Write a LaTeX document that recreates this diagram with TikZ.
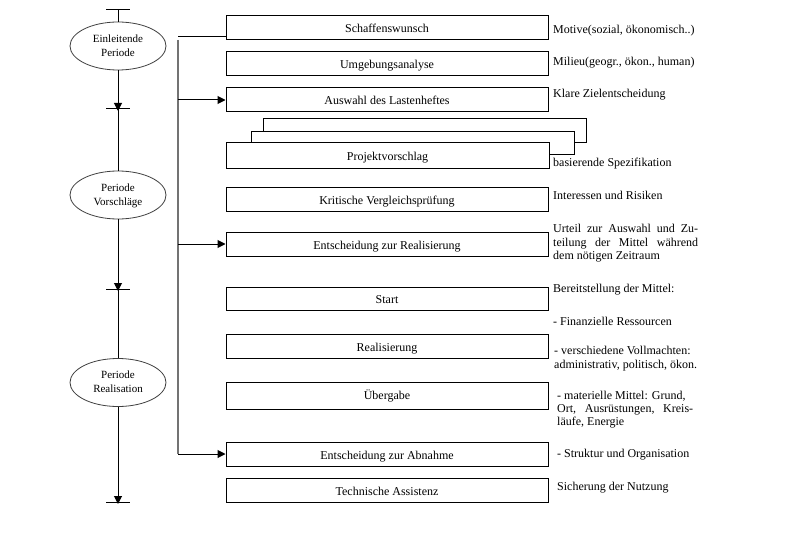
\documentclass[tikz,border=0pt]{standalone}
\usepackage{fontspec}
\setmainfont{Liberation Serif}
\usetikzlibrary{arrows.meta,shapes.geometric}
\begin{document}
\begin{tikzpicture}[x=1pt,y=-1pt,
  box/.style={draw,line width=1pt,fill=white,minimum width=322pt,minimum height=24pt,inner sep=0pt,text height=12pt,text depth=2pt,font=\fontsize{12}{14}\selectfont},
  per/.style={ellipse,draw=black!75,line width=0.8pt,fill=white,minimum width=96pt,minimum height=48pt,inner sep=0pt,align=center,text depth=1pt,font=\fontsize{11}{14}\selectfont},
  note/.style={anchor=base west,inner sep=0pt,font=\fontsize{12}{14}\selectfont},
  arr/.style={-{Triangle[length=8pt,width=8pt]},line width=1pt},
  ln/.style={line width=1pt},
  bus/.style={line width=1.3pt,draw=black!55},
]
\useasboundingbox[fill=white] (0,0) rectangle (791,548);

% left column: periods
\node[per] (e1) at (118,46) {Einleitende\\Periode};
\node[per] (e2) at (118,195) {Periode\\Vorschläge};
\node[per] (e3) at (118,382.5) {Periode\\Realisation};
\coordinate (t0) at (118,10);
\coordinate (t1) at (118,109);
\coordinate (t2) at (118,289);
\coordinate (t3) at (118,502);
\foreach \t in {t0,t1,t2,t3} \draw[ln] ([xshift=-12pt]\t) -- ([xshift=12pt]\t);
\draw[ln] (t0) -- (e1.north);
\draw[arr] (e1.south) -- ([yshift=-2pt]t1);
\draw[ln] (t1) -- (e2.north);
\draw[arr] (e2.south) -- ([yshift=-2pt]t2);
\draw[ln] (t2) -- (e3.north);
\draw[arr] (e3.south) -- ([yshift=-2pt]t3);

% boxes
\node[box] (b1) at (387,28) {Schaffenswunsch};
\node[box] (b2) at (387,64) {Umgebungsanalyse};
\node[box] (b3) at (387,100) {Auswahl des Lastenheftes};
\node[box,minimum width=323pt] (pv3) at (424.5,131) {};
\node[box,minimum width=323pt,minimum height=23pt] (pv2) at (412.5,143.5) {};
\node[box,minimum width=323pt,minimum height=25pt] (b4) at (387.5,155.5) {Projektvorschlag};
\node[box] (b5) at (387,199) {Kritische Vergleichsprüfung};
\node[box] (b6) at (387,244) {Entscheidung zur Realisierung};
\node[box,minimum height=23pt] (b7) at (387,298.5) {Start};
\node[box] (b8) at (387,346) {Realisierung};
\node[box,minimum height=27pt] (b9) at (387,395.5) {\raisebox{1pt}{Übergabe}};
\node[box] (b10) at (387,454) {Entscheidung zur Abnahme};
\node[box] (b11) at (387,490) {Technische Assistenz};

% middle bus
\coordinate (m0) at (178,37);
\coordinate (m1) at (178,40);
\coordinate (m2) at (178,454);
\draw[bus] (m1) -- (m2);
\draw[ln] (m0) -- (m0 -| b1.west);
\draw[arr] (m1 |- b3.west) -- (b3.west);
\draw[arr] (m1 |- b6.west) -- (b6.west);
\draw[arr] (m2) -- (b10.west);

% notes
\node[note] (n1) at (553,34) {Motive(sozial, ökonomisch..)};
\node[note] (n2) at (553,66) {Milieu(geogr., ökon., human)};
\node[note] (n3) at (553,98) {Klare Zielentscheidung};
\node[note] (n4) at (553,166) {basierende Spezifikation};
\node[note] (n5) at (553,199) {Interessen und Risiken};
\node[note] (n6a) at (553,232) {\makebox[145pt][s]{Urteil zur Auswahl und Zu-}};
\node[note] (n6b) at (553,246) {\makebox[145pt][s]{teilung der Mittel während}};
\node[note] (n6c) at (553,259) {dem nötigen Zeitraum};
\node[note] (n7) at (553,292) {Bereitstellung der Mittel:};
\node[note] (n8) at (553,325) {- Finanzielle Ressourcen};
\node[note] (n9a) at (554,354) {- verschiedene Vollmachten:};
\node[note] (n9b) at (554,368) {administrativ, politisch, ökon.};
\node[note] (n10a) at (557,399) {- materielle Mittel: Grund,};
\node[note] (n10b) at (557,412) {\makebox[136pt][s]{Ort, Ausrüstungen, Kreis-}};
\node[note] (n10c) at (557,425) {läufe, Energie};
\node[note] (n11) at (557,457) {- Struktur und Organisation};
\node[note] (n12) at (557,490) {Sicherung der Nutzung};
\end{tikzpicture}
\end{document}
